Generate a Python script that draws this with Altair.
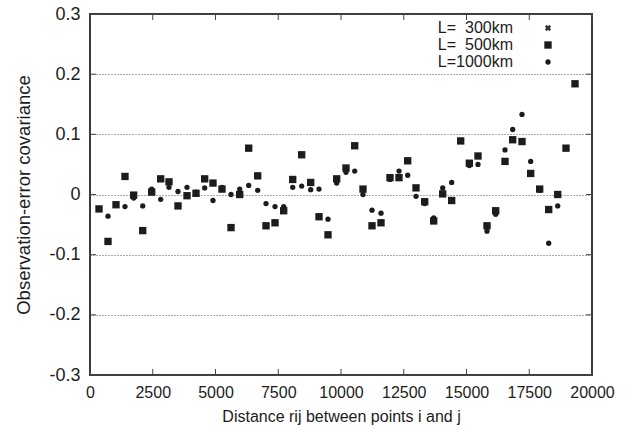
import altair as alt
import pandas as pd

# distances (x)
dist = [359, 717, 1036, 1394, 1740, 2100, 2458, 2816, 3147, 3506, 3865, 4223,
        4569, 4900, 5259, 5618, 5964, 6323, 6681, 7012, 7371, 7717, 8076, 8434,
        8793, 9124, 9482, 9828, 10199, 10546, 10876, 11235, 11594, 11952, 12311,
        12657, 12988, 13335, 13693, 14052, 14410, 14769, 15113, 15458, 15817,
        16163, 16534, 16840, 17211, 17557, 17916, 18275, 18634, 18964, 19323]

cov_500 = [-0.024, -0.078, -0.017, 0.030, -0.001, -0.060, 0.004, 0.026, 0.021,
           -0.019, -0.002, 0.002, 0.026, 0.019, 0.009, -0.055, 0.000, 0.077,
           0.031, -0.052, -0.047, -0.027, 0.025, 0.066, 0.020, -0.037, -0.067,
           0.026, 0.044, 0.081, 0.009, -0.052, -0.047, 0.028, 0.028, 0.056,
           0.011, -0.012, -0.044, 0.001, -0.010, 0.089, 0.052, 0.064, -0.052,
           -0.027, 0.055, 0.091, 0.088, 0.035, 0.009, -0.025, 0.000, 0.077, 0.184]

cov_1000 = [-0.024, -0.036, -0.017, -0.020, -0.006, -0.019, 0.009, -0.008, 0.012,
            0.005, 0.012, 0.004, 0.011, -0.010, 0.012, 0.000, 0.009, 0.015,
            0.007, -0.015, -0.020, -0.020, 0.012, 0.014, 0.008, 0.009, -0.041,
            0.019, 0.037, 0.039, 0.000, -0.026, -0.031, 0.025, 0.039, 0.032,
            -0.003, -0.015, -0.039, 0.011, 0.020, 0.089, 0.048, 0.050, -0.061,
            -0.033, 0.074, 0.108, 0.133, 0.055, 0.007, -0.081, -0.019, 0.078, 0.184]

# 300 km values are not visible: they lie under the 500 km squares
cov_300 = list(cov_500)

x_ticks = [0, 2500, 5000, 7500, 10000, 12500, 15000, 17500, 20000]
y_ticks = [-0.3, -0.2, -0.1, 0.0, 0.1, 0.2, 0.3]
legend_labels = ["L=\u00a0\u00a0300km", "L=\u00a0\u00a0500km", "L=1000km"]

W, H = 502, 361
INK = "#1c1c1c"
FONT = "Liberation Sans"
FS = 16

xs = alt.Scale(domain=[0, 20000], nice=False, zero=False)
ys = alt.Scale(domain=[-0.3, 0.3], nice=False, zero=False)

df300 = pd.DataFrame({"d": dist, "c": cov_300})
df500 = pd.DataFrame({"d": dist, "c": cov_500})
df1000 = pd.DataFrame({"d": dist, "c": cov_1000})
dfx = pd.DataFrame({"t": x_ticks})
dfy = pd.DataFrame({"t": y_ticks})

x_axis = alt.Axis(values=x_ticks, format="d", title="Distance rij between points i and j",
                  grid=False, ticks=False, domain=False, labelPadding=9, titlePadding=8,
                  labelFontSize=FS, titleFontSize=FS, labelFont=FONT, titleFont=FONT,
                  labelColor=INK, titleColor=INK, titleFontWeight="normal",
                  labelFlush=False)
y_axis = alt.Axis(values=y_ticks, labelExpr="'' + datum.value",
                  title="Observation-error covariance",
                  grid=True, gridDash=[1, 2], gridColor="#555", gridWidth=1,
                  ticks=False, domain=False, labelPadding=10, titlePadding=15,
                  labelFontSize=18, titleFontSize=18.5, labelFont=FONT, titleFont=FONT,
                  labelColor=INK, titleColor=INK, titleFontWeight="normal",
                  labelFlush=False)


def X(f):
    return alt.X(f, scale=xs, axis=x_axis)


def Y(f):
    return alt.Y(f, scale=ys, axis=y_axis)


tick_style = dict(color="#444", strokeWidth=1)
xt_bottom = alt.Chart(dfx).mark_rule(**tick_style).encode(
    x=X("t:Q"), y=alt.value(H), y2=alt.value(H - 6))
xt_top = alt.Chart(dfx).mark_rule(**tick_style).encode(
    x=X("t:Q"), y=alt.value(0), y2=alt.value(6))
yt_left = alt.Chart(dfy).mark_rule(**tick_style).encode(
    y=Y("t:Q"), x=alt.value(0), x2=alt.value(6))
yt_right = alt.Chart(dfy).mark_rule(**tick_style).encode(
    y=Y("t:Q"), x=alt.value(W), x2=alt.value(W - 6))

p300 = alt.Chart(df300).mark_point(shape="cross", angle=45, filled=True, size=40,
                                   color="#333", opacity=1).encode(
    x=X("d:Q"), y=Y("c:Q"))
p500 = alt.Chart(df500).mark_point(shape="square", filled=True, size=54,
                                   color=INK, opacity=1).encode(
    x=X("d:Q"), y=Y("c:Q"))
p1000 = alt.Chart(df1000).mark_point(shape="circle", filled=True, size=28,
                                     color=INK, opacity=1).encode(
    x=X("d:Q"), y=Y("c:Q"))

# legend (gnuplot-style: text right-aligned, symbol to the right)
leg_style = dict(align="right", baseline="middle", fontSize=16, font=FONT, color=INK)
lt1 = alt.Chart(pd.DataFrame({"s": [legend_labels[0]]})).mark_text(**leg_style).encode(
    text="s:N", x=alt.value(423), y=alt.value(14))
lt2 = alt.Chart(pd.DataFrame({"s": [legend_labels[1]]})).mark_text(**leg_style).encode(
    text="s:N", x=alt.value(423), y=alt.value(31))
lt3 = alt.Chart(pd.DataFrame({"s": [legend_labels[2]]})).mark_text(**leg_style).encode(
    text="s:N", x=alt.value(423), y=alt.value(48))
ls1 = alt.Chart(pd.DataFrame({"s": [legend_labels[0]]})).mark_point(
    shape="cross", angle=45, filled=True, size=40, color="#333", opacity=1).encode(
    x=alt.value(458), y=alt.value(14))
ls2 = alt.Chart(pd.DataFrame({"s": [legend_labels[1]]})).mark_point(
    shape="square", filled=True, size=54, color=INK, opacity=1).encode(
    x=alt.value(458), y=alt.value(31))
ls3 = alt.Chart(pd.DataFrame({"s": [legend_labels[2]]})).mark_point(
    shape="circle", filled=True, size=28, color=INK, opacity=1).encode(
    x=alt.value(458), y=alt.value(48))

chart = alt.layer(
    xt_bottom, xt_top, yt_left, yt_right,
    p300, p500, p1000, lt1, lt2, lt3, ls1, ls2, ls3
).properties(
    width=W, height=H,
    autosize=alt.AutoSizeParams(type="none"),
    padding={"left": 90, "top": 14, "right": 36, "bottom": 54},
    background="white",
).configure_view(
    stroke="#3a3a3a", strokeWidth=2
)

chart.save("out.html", embed_options={"renderer": "svg", "actions": False})
